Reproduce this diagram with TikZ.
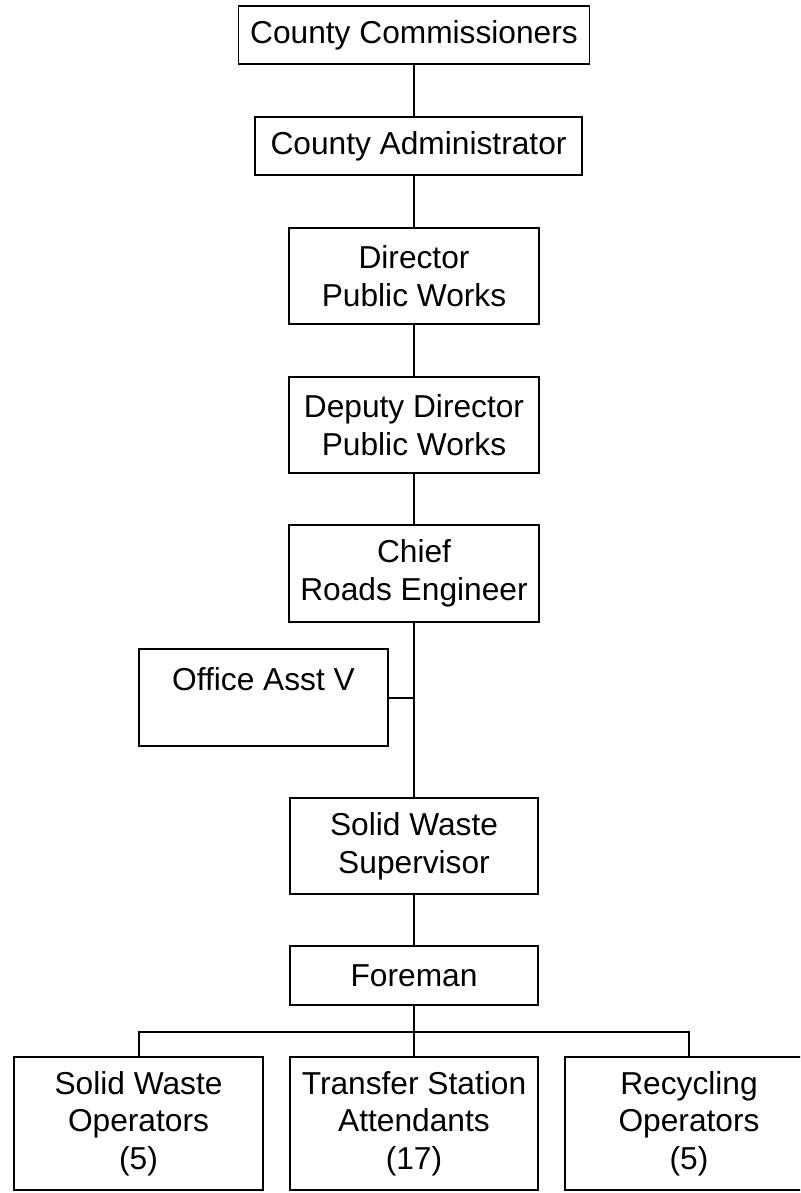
\documentclass[tikz,border=0pt]{standalone}
\usepackage{fontspec}
\setmainfont{Liberation Sans}
\begin{document}
\begin{tikzpicture}[x=1pt,y=-1pt,
  box/.style={draw=black,line width=1.8pt,rectangle,inner sep=0pt,align=center,
    font=\fontsize{31.7}{37.7}\selectfont},
  conn/.style={draw=black,line width=2pt},
  thickconn/.style={draw=black,line width=2.6pt}]
\useasboundingbox (0,0) rectangle (800,1193);
\clip (0,0) rectangle (800,1193);
\fill[white] (0,0) rectangle (800,1193);
\node[box,minimum width=351pt,minimum height=58pt] (comm) at (414,35) {County Commissioners};
\node[box,minimum width=327pt,minimum height=58pt] (admin) at (418.5,146) {County Administrator};
\node[box,minimum width=250pt,minimum height=96pt] (dir) at (414,276) {Director\\Public Works};
\node[box,minimum width=250pt,minimum height=96pt] (dep) at (414,425) {Deputy Director\\Public Works};
\node[box,minimum width=250pt,minimum height=97pt] (chief) at (414,573.5) {Chief\\Roads Engineer};
\node[box,minimum width=249pt,minimum height=97pt] (office) at (263.5,697.5) {Office Asst V\\\mbox{}};
\node[box,minimum width=248pt,minimum height=96pt] (sws) at (414,846) {Solid Waste\\Supervisor};
\node[box,minimum width=248pt,minimum height=59pt] (fore) at (414,975.5) {Foreman};
\node[box,minimum width=249pt,minimum height=133pt] (swo) at (138.5,1123.5) {Solid Waste\\Operators\\(5)};
\node[box,minimum width=248pt,minimum height=133pt] (tsa) at (414,1123.5) {Transfer Station\\Attendants\\(17)};
\node[box,minimum width=248pt,minimum height=133pt] (rec) at (689,1123.5) {Recycling\\Operators\\(5)};
\draw[conn] (comm.south) -- (comm.south |- admin.north);
\draw[conn] (dir.north |- admin.south) -- (dir.north);
\draw[conn] (dir.south) -- (dep.north);
\draw[conn] (dep.south) -- (chief.north);
\draw[thickconn] (chief.south) -- (sws.north);
\draw[conn] (office.east) -- (office.east -| chief.south);
\draw[conn] (sws.south) -- (fore.north);
\draw[conn] (fore.south) -- (tsa.north);
\coordinate (busL) at (138.5,1032);
\draw[conn] (swo.north) -- (busL) -| (rec.north);
\end{tikzpicture}
\end{document}
